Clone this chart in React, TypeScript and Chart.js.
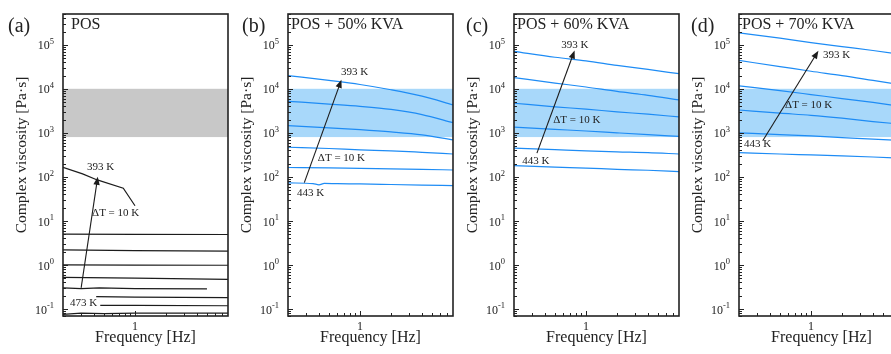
import React, { useEffect, useRef } from "react";
import { Chart, registerables } from "chart.js";
Chart.register(...registerables);

// ---------- axes ----------
const FREQ_MIN = 0.2;
const FREQ_MAX = 8;
const VISC_MIN = 0.069;
const VISC_MAX = 5e5;
const Y_DECADES = [-1, 0, 1, 2, 3, 4, 5];
const X_MAJOR_TICKS = [1];
const X_TICK_LABELS = ["1"];
const X_TITLE = "Frequency [Hz]";
const Y_TITLE = "Complex viscosity [Pa·s]";
const BAND_LOW = 800;
const BAND_HIGH = 10000;

// ---------- panel (a) POS : 393 K ... 473 K ----------
const A_393_F = [0.2, 0.31, 0.43, 0.77, 1.0];
const A_393_V = [165, 117, 85, 55, 22];
const A_403_F = [0.2, 1, 8];
const A_403_V = [5.0, 4.95, 4.9];
const A_413_F = [0.2, 1, 8];
const A_413_V = [2.2, 2.1, 2.05];
const A_423_F = [0.2, 1, 8];
const A_423_V = [1.0, 0.99, 0.98];
const A_433_F = [0.2, 1, 8];
const A_433_V = [0.52, 0.5, 0.47];
const A_443_F = [0.2, 0.3, 0.45, 1, 5];
const A_443_V = [0.3, 0.29, 0.3, 0.29, 0.285];
const A_453_F = [0.42, 1, 8];
const A_453_V = [0.19, 0.185, 0.18];
const A_463_F = [0.46, 1, 8];
const A_463_V = [0.12, 0.12, 0.118];
const A_473_F = [0.2, 0.3, 0.5, 1, 8];
const A_473_V = [0.075, 0.08, 0.078, 0.08, 0.08];

// ---------- panels (b)-(d) share a frequency grid ----------
const STD_F = [0.2, 0.5, 1, 2, 4, 8];

// (b) POS + 50% KVA : 393 K ... 443 K
const B_393 = [2.0e4, 1.55e4, 1.25e4, 9.5e3, 6.8e3, 4.3e3];
const B_403 = [5.2e3, 4.5e3, 4.0e3, 3.4e3, 2.6e3, 1.7e3];
const B_413 = [1.45e3, 1.3e3, 1.18e3, 1.05e3, 900, 690];
const B_423 = [470, 440, 410, 390, 360, 330];
const B_433 = [163, 160, 155, 152, 148, 143];
const B_443_F = [0.2, 0.35, 0.4, 0.45, 0.6, 1, 2, 4, 8];
const B_443 = [73, 70, 66, 71, 70, 69, 67, 65, 63];

// (c) POS + 60% KVA
const C_393 = [7.1e4, 5.2e4, 4.3e4, 3.4e4, 2.75e4, 2.2e4];
const C_403 = [1.8e4, 1.35e4, 1.1e4, 8.7e3, 7.1e3, 5.6e3];
const C_413 = [4.7e3, 3.9e3, 3.45e3, 3.0e3, 2.65e3, 2.3e3];
const C_423 = [1.35e3, 1.2e3, 1.1e3, 1.0e3, 910, 830];
const C_433 = [450, 415, 390, 370, 355, 330];
const C_443 = [180, 166, 158, 148, 141, 132];

// (d) POS + 70% KVA
const D_393 = [1.86e5, 1.41e5, 1.12e5, 9.1e4, 7.4e4, 5.9e4];
const D_403 = [4.4e4, 3.2e4, 2.5e4, 2.0e4, 1.55e4, 1.2e4];
const D_413 = [1.17e4, 9.1e3, 7.4e3, 6.0e3, 4.9e3, 3.9e3];
const D_423 = [3.3e3, 2.8e3, 2.5e3, 2.15e3, 1.8e3, 1.55e3];
const D_433 = [1.0e3, 910, 850, 780, 720, 660];
const D_443 = [355, 330, 315, 300, 282, 263];

// ---------- styles ----------
const BLACK = "#1c1c1c";
const BLUE = "#1e8cf5";
const GRAY_BAND = "#c8c8c8";
const BLUE_BAND = "#a8d8fa";
const SERIF = '"Liberation Serif", "Times New Roman", serif';

type Series = { f: number[]; v: number[] };
type Note = { text: string; f: number; v: number };
type Panel = {
  tag: string;
  tagX: number;
  name: string;
  nameDx: number;
  left: number;
  lineColor: string;
  bandColor: string;
  smooth: boolean;
  series: Series[];
  arrowFrom: [number, number];
  arrowTo: [number, number];
  notes: Note[];
};

const PANELS: Panel[] = [
  {
    tag: "(a)", tagX: 8, name: "POS", nameDx: 8, left: 0,
    lineColor: BLACK, bandColor: GRAY_BAND, smooth: false,
    series: [
      { f: A_393_F, v: A_393_V }, { f: A_403_F, v: A_403_V }, { f: A_413_F, v: A_413_V },
      { f: A_423_F, v: A_423_V }, { f: A_433_F, v: A_433_V }, { f: A_443_F, v: A_443_V },
      { f: A_453_F, v: A_453_V }, { f: A_463_F, v: A_463_V }, { f: A_473_F, v: A_473_V },
    ],
    arrowFrom: [0.3, 0.3], arrowTo: [0.435, 100],
    notes: [
      { text: "393 K", f: 0.342, v: 169 },
      { text: "ΔT = 10 K", f: 0.383, v: 15 },
      { text: "473 K", f: 0.234, v: 0.137 },
    ],
  },
  {
    tag: "(b)", tagX: 17, name: "POS + 50% KVA", nameDx: 3, left: 225,
    lineColor: BLUE, bandColor: BLUE_BAND, smooth: true,
    series: [
      { f: STD_F, v: B_393 }, { f: STD_F, v: B_403 }, { f: STD_F, v: B_413 },
      { f: STD_F, v: B_423 }, { f: STD_F, v: B_433 }, { f: B_443_F, v: B_443 },
    ],
    arrowFrom: [0.288, 74], arrowTo: [0.66, 1.6e4],
    notes: [
      { text: "393 K", f: 0.654, v: 2.35e4 },
      { text: "ΔT = 10 K", f: 0.39, v: 270 },
      { text: "443 K", f: 0.245, v: 43 },
    ],
  },
  {
    tag: "(c)", tagX: 15, name: "POS + 60% KVA", nameDx: 3, left: 451,
    lineColor: BLUE, bandColor: BLUE_BAND, smooth: true,
    series: [
      { f: STD_F, v: C_393 }, { f: STD_F, v: C_403 }, { f: STD_F, v: C_413 },
      { f: STD_F, v: C_423 }, { f: STD_F, v: C_433 }, { f: STD_F, v: C_443 },
    ],
    arrowFrom: [0.334, 345], arrowTo: [0.775, 7.4e4],
    notes: [
      { text: "393 K", f: 0.575, v: 1.0e5 },
      { text: "ΔT = 10 K", f: 0.48, v: 1.97e3 },
      { text: "443 K", f: 0.24, v: 230 },
    ],
  },
  {
    tag: "(d)", tagX: 15, name: "POS + 70% KVA", nameDx: 3, left: 676,
    lineColor: BLUE, bandColor: BLUE_BAND, smooth: true,
    series: [
      { f: STD_F, v: D_393 }, { f: STD_F, v: D_403 }, { f: STD_F, v: D_413 },
      { f: STD_F, v: D_423 }, { f: STD_F, v: D_433 }, { f: STD_F, v: D_443 },
    ],
    arrowFrom: [0.34, 660], arrowTo: [1.18, 7.3e4],
    notes: [
      { text: "393 K", f: 1.31, v: 5.9e4 },
      { text: "ΔT = 10 K", f: 0.56, v: 4.2e3 },
      { text: "443 K", f: 0.224, v: 560 },
    ],
  },
];

const CANVAS_W = 240;
const CANVAS_H = 354;

function makeDecor(panel: Panel) {
  return {
    id: "decor-" + panel.tag,
    beforeDatasetsDraw(chart: any) {
      const { ctx, chartArea: ca, scales } = chart;
      const y = scales.y;
      const yt = y.getPixelForValue(BAND_HIGH);
      const yb = y.getPixelForValue(BAND_LOW);
      ctx.save();
      ctx.fillStyle = panel.bandColor;
      ctx.fillRect(ca.left, yt, ca.right - ca.left, yb - yt);
      ctx.restore();
    },
    afterDatasetsDraw(chart: any) {
      const { ctx, chartArea: ca, scales } = chart;
      const x = scales.x;
      const y = scales.y;
      ctx.save();

      // arrow
      const x0 = x.getPixelForValue(panel.arrowFrom[0]);
      const y0 = y.getPixelForValue(panel.arrowFrom[1]);
      const x1 = x.getPixelForValue(panel.arrowTo[0]);
      const y1 = y.getPixelForValue(panel.arrowTo[1]);
      const ang = Math.atan2(y1 - y0, x1 - x0);
      const hl = 8, hw = 3.2;
      ctx.strokeStyle = BLACK;
      ctx.fillStyle = BLACK;
      ctx.lineWidth = 1.1;
      ctx.beginPath();
      ctx.moveTo(x0, y0);
      ctx.lineTo(x1 - Math.cos(ang) * hl * 0.8, y1 - Math.sin(ang) * hl * 0.8);
      ctx.stroke();
      ctx.beginPath();
      ctx.moveTo(x1, y1);
      ctx.lineTo(x1 - Math.cos(ang) * hl - Math.sin(ang) * hw, y1 - Math.sin(ang) * hl + Math.cos(ang) * hw);
      ctx.lineTo(x1 - Math.cos(ang) * hl + Math.sin(ang) * hw, y1 - Math.sin(ang) * hl - Math.cos(ang) * hw);
      ctx.closePath();
      ctx.fill();

      // notes
      ctx.font = "11px " + SERIF;
      ctx.textAlign = "left";
      ctx.textBaseline = "middle";
      ctx.fillStyle = "#222";
      for (const n of panel.notes) {
        ctx.fillText(n.text, x.getPixelForValue(n.f), y.getPixelForValue(n.v));
      }

      // frame
      ctx.strokeStyle = "#222";
      ctx.lineWidth = 1.6;
      ctx.strokeRect(ca.left, ca.top, ca.right - ca.left, ca.bottom - ca.top);

      // y ticks (inward) and labels
      ctx.lineWidth = 1;
      for (let e = -2; e <= 6; e++) {
        for (let m = 1; m <= 9; m++) {
          const v = m * Math.pow(10, e);
          if (v < VISC_MIN || v > VISC_MAX) continue;
          const py = Math.round(y.getPixelForValue(v)) + 0.5;
          const len = m === 1 ? 5 : 3;
          ctx.beginPath();
          ctx.moveTo(ca.left, py);
          ctx.lineTo(ca.left + len, py);
          ctx.stroke();
        }
      }
      ctx.fillStyle = "#222";
      for (const e of Y_DECADES) {
        const py = y.getPixelForValue(Math.pow(10, e));
        const exp = String(e);
        ctx.font = "8.5px " + SERIF;
        const ew = ctx.measureText(exp).width;
        const xr = ca.left - 9;
        ctx.textAlign = "left";
        ctx.textBaseline = "alphabetic";
        ctx.fillText(exp, xr - ew, py - 1);
        ctx.font = "12px " + SERIF;
        ctx.textAlign = "right";
        ctx.textBaseline = "middle";
        ctx.fillText("10", xr - ew, py + 1.5);
      }

      // x ticks (inward) and labels
      for (let e = -1; e <= 0; e++) {
        for (let m = 1; m <= 9; m++) {
          const v = m * Math.pow(10, e);
          if (v <= FREQ_MIN || v >= FREQ_MAX) continue;
          const px = Math.round(x.getPixelForValue(v)) + 0.5;
          const len = m === 1 && e === 0 ? 5 : 3;
          ctx.beginPath();
          ctx.moveTo(px, ca.bottom);
          ctx.lineTo(px, ca.bottom - len);
          ctx.stroke();
        }
      }
      ctx.font = "12px " + SERIF;
      ctx.textAlign = "center";
      ctx.textBaseline = "middle";
      X_MAJOR_TICKS.forEach((t, i) => {
        ctx.fillText(X_TICK_LABELS[i], x.getPixelForValue(t), ca.bottom + 11);
      });

      // axis titles
      ctx.font = "16px " + SERIF;
      ctx.fillText(X_TITLE, (ca.left + ca.right) / 2, ca.bottom + 22);
      ctx.save();
      ctx.translate(22, 155);
      ctx.rotate(-Math.PI / 2);
      ctx.font = "15.5px " + SERIF;
      ctx.fillText(Y_TITLE, 0, 0);
      ctx.restore();

      // panel tag and name
      ctx.textAlign = "left";
      ctx.textBaseline = "alphabetic";
      ctx.font = "20px " + SERIF;
      ctx.fillText(panel.tag, panel.tagX, 32);
      ctx.font = "16px " + SERIF;
      ctx.fillText(panel.name, ca.left + panel.nameDx, 29);

      ctx.restore();
    },
  };
}

function PanelChart({ panel }: { panel: Panel }) {
  const ref = useRef<HTMLCanvasElement | null>(null);
  useEffect(() => {
    const canvas = ref.current;
    if (!canvas) return;
    const chart = new Chart(canvas, {
      type: "line",
      data: {
        datasets: panel.series.map((s) => ({
          data: s.f.map((f, i) => ({ x: f, y: s.v[i] })),
          borderColor: panel.lineColor,
          borderWidth: 1.2,
          pointRadius: 0,
          fill: false,
          tension: 0,
          cubicInterpolationMode: panel.smooth ? ("monotone" as const) : ("default" as const),
        })),
      },
      options: {
        responsive: false,
        animation: false,
        devicePixelRatio: 1,
        layout: { padding: { left: 0, right: 12, top: 14, bottom: 0 } },
        plugins: { legend: { display: false }, tooltip: { enabled: false } },
        scales: {
          x: {
            type: "logarithmic",
            min: FREQ_MIN,
            max: FREQ_MAX,
            ticks: { display: false },
            grid: { display: false },
            border: { display: false },
            afterFit: (s: any) => { s.height = 38; },
          },
          y: {
            type: "logarithmic",
            min: VISC_MIN,
            max: VISC_MAX,
            ticks: { display: false },
            grid: { display: false },
            border: { display: false },
            afterFit: (s: any) => { s.width = 63; },
          },
        },
      } as any,
      plugins: [makeDecor(panel)],
    });
    return () => chart.destroy();
  }, [panel]);
  return (
    <canvas
      ref={ref}
      width={CANVAS_W}
      height={CANVAS_H}
      style={{ position: "absolute", left: panel.left, top: 0, width: CANVAS_W, height: CANVAS_H }}
    />
  );
}

export default function App() {
  return (
    <div
      style={{
        position: "fixed",
        left: 0,
        top: 0,
        width: 891,
        height: 354,
        overflow: "hidden",
        background: "#fff",
      }}
    >
      {PANELS.map((p) => (
        <PanelChart key={p.tag} panel={p} />
      ))}
    </div>
  );
}
